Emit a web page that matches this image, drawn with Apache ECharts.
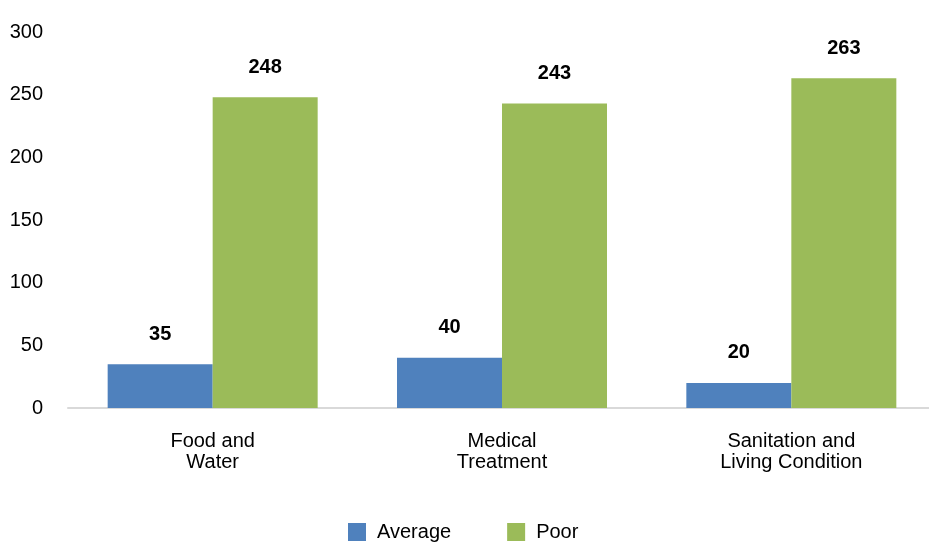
<!DOCTYPE html>
<html>
  <head>
    <meta charset="utf-8">
    <title>chart</title>
    <style>
        *{
            padding: 0;
            margin: 0;
        }
        body{
            background-color: #ffffff;
        }
        #chart{
            width: 929px;
            height: 549px;
        }
    </style>
  </head>
  <body>
    <div id="chart"></div>
    <script type="text/javascript" src="https://cdn.jsdelivr.net/npm/echarts@6/dist/echarts.min.js"></script>
    <script type="text/javascript">
        var categories = ['Food and\nWater', 'Medical\nTreatment', 'Sanitation and\nLiving Condition'];
        var averageData = [35, 40, 20];
        var poorData = [248, 243, 263];
        var yTicks = [0, 50, 100, 150, 200, 250, 300];

        var myChart = echarts.init(document.getElementById('chart'));
        var labelStyle = {
            show: true,
            position: 'top',
            distance: 20,
            color: '#000000',
            fontFamily: 'Liberation Sans',
            fontWeight: 'bold',
            fontSize: 20
        };
        var option = {
            animation: false,
            color: ['#4f81bd', '#9bbb59'],
            textStyle: { fontFamily: 'Liberation Sans' },
            grid: {
                left: 68,
                width: 868,
                top: 32,
                bottom: 141,
                containLabel: false,
                outerBoundsMode: 'none'
            },
            legend: {
                bottom: 2,
                left: 343,
                icon: 'rect',
                itemWidth: 18,
                itemHeight: 18,
                itemGap: 56,
                textStyle: { fontSize: 20, color: '#000000', fontFamily: 'Liberation Sans', padding: [0, 0, 0, 6] },
                data: ['Average', 'Poor']
            },
            xAxis: {
                type: 'category',
                data: categories,
                axisLine: { lineStyle: { color: '#d9d9d9', width: 2 } },
                axisTick: { show: false },
                axisLabel: {
                    color: '#000000',
                    fontSize: 20,
                    lineHeight: 21,
                    margin: 23,
                    interval: 0
                }
            },
            yAxis: {
                type: 'value',
                min: yTicks[0],
                max: yTicks[yTicks.length - 1],
                interval: 50,
                axisLine: { show: false },
                axisTick: { show: false },
                splitLine: { show: false },
                axisLabel: {
                    color: '#000000',
                    fontSize: 20,
                    margin: 25
                }
            },
            series: [{
                name: 'Average',
                type: 'bar',
                data: averageData,
                barWidth: 105,
                barGap: '0%',
                label: labelStyle
            }, {
                name: 'Poor',
                type: 'bar',
                data: poorData,
                barWidth: 105,
                label: labelStyle
            }]
        };
        myChart.setOption(option);
    </script>
  </body>
</html>
